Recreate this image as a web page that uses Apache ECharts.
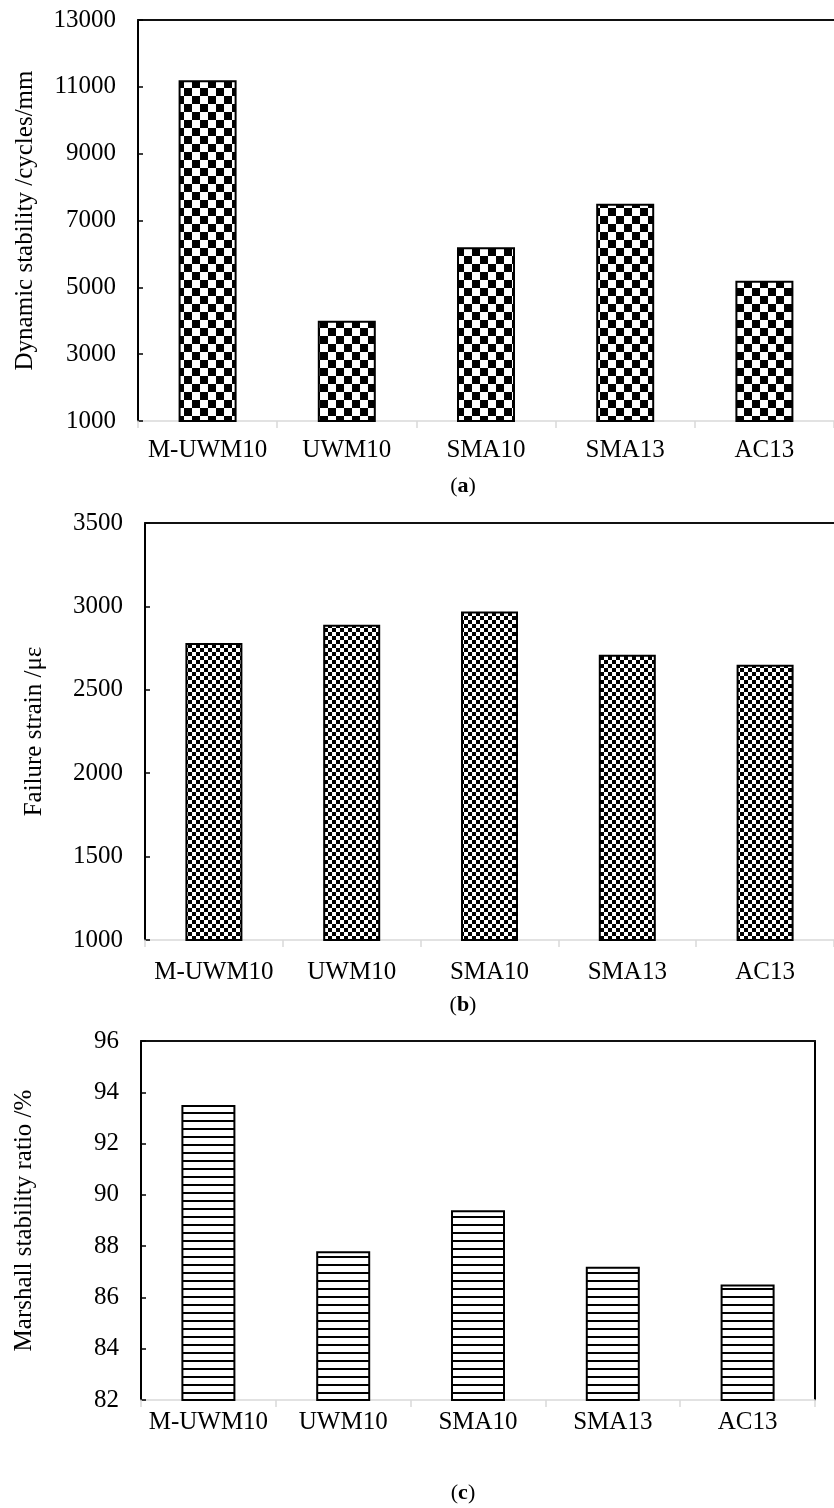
<!DOCTYPE html>
<html>
<head>
<meta charset="utf-8">
<script src="https://cdn.jsdelivr.net/npm/echarts@6/dist/echarts.min.js"></script>
<style>
html,body{margin:0;padding:0;background:#fff;}
#chart{width:834px;height:1508px;}
</style>
</head>
<body>
<div id="chart"></div>
<script>
// ---- data ----
const categories = ['M-UWM10', 'UWM10', 'SMA10', 'SMA13', 'AC13'];
const dynamicStability = [11200, 4000, 6200, 7500, 5200];   // cycles/mm
const failureStrain = [2780, 2890, 2970, 2710, 2650];        // με
const marshallRatio = [93.5, 87.8, 89.4, 87.2, 86.5];        // %
const ticksA = [1000, 3000, 5000, 7000, 9000, 11000, 13000];
const ticksB = [1000, 1500, 2000, 2500, 3000, 3500];
const ticksC = [82, 84, 86, 88, 90, 92, 94, 96];

// ---- patterns ----
function checker(cell) {
  const c = document.createElement('canvas');
  c.width = cell * 2; c.height = cell * 2;
  const g = c.getContext('2d');
  g.fillStyle = '#fff'; g.fillRect(0, 0, c.width, c.height);
  g.fillStyle = '#000';
  g.fillRect(0, 0, cell, cell);
  g.fillRect(cell, cell, cell, cell);
  return c;
}
function stripes(period, thick) {
  const c = document.createElement('canvas');
  c.width = period; c.height = period;
  const g = c.getContext('2d');
  g.fillStyle = '#fff'; g.fillRect(0, 0, period, period);
  g.fillStyle = '#000'; g.fillRect(0, 0, period, thick);
  return c;
}
const patA = { image: checker(8), repeat: 'repeat' };
const patB = { image: checker(4), repeat: 'repeat' };
const patC = { image: stripes(8, 2), repeat: 'repeat' };

const FONT = 'Liberation Serif, Times New Roman, serif';

function bottomX(gi, margin) {
  return {
    type: 'category', gridIndex: gi, data: categories, position: 'bottom',
    axisLine: { show: true, lineStyle: { color: '#d9d9d9', width: 1.5 } },
    axisTick: { show: true, length: 7, lineStyle: { color: '#d9d9d9', width: 1.5 } },
    axisLabel: { fontSize: 25, color: '#000', fontFamily: FONT, margin: margin, interval: 0 },
    splitLine: { show: false }
  };
}
function topX(gi) {
  return {
    type: 'category', gridIndex: gi, data: categories, position: 'top',
    axisLine: { show: true, lineStyle: { color: '#111', width: 2 } },
    axisTick: { show: false }, axisLabel: { show: false }, splitLine: { show: false }
  };
}
function leftY(gi, ticks, name, gap) {
  return {
    type: 'value', gridIndex: gi, position: 'left',
    min: ticks[0], max: ticks[ticks.length - 1], interval: ticks[1] - ticks[0],
    name: name, nameLocation: 'middle', nameRotate: 90, nameGap: gap,
    nameTextStyle: { fontSize: 25, color: '#000', fontFamily: FONT },
    axisLine: { show: true, lineStyle: { color: '#000', width: 2 } },
    axisTick: { show: true, inside: true, length: 5, lineStyle: { color: '#000', width: 1.5 } },
    axisLabel: { fontSize: 25, color: '#000', fontFamily: FONT, margin: 22,
      formatter: function (v) { return String(v); } },
    splitLine: { show: false }
  };
}
function rightY(gi, ticks) {
  return {
    type: 'value', gridIndex: gi, position: 'right',
    min: ticks[0], max: ticks[ticks.length - 1], interval: ticks[1] - ticks[0],
    axisLine: { show: true, lineStyle: { color: '#000', width: 2 } },
    axisTick: { show: false }, axisLabel: { show: false }, splitLine: { show: false }
  };
}
function caption(letter, top) {
  return {
    text: '({b|' + letter + '})', left: 458, top: top, textAlign: 'center',
    textStyle: { fontSize: 22, color: '#000', fontFamily: FONT, fontWeight: 'normal',
      rich: { b: { fontSize: 22, fontWeight: 'bold', color: '#000', fontFamily: FONT } } }
  };
}
function bars(xi, yi, data, pat, w) {
  return {
    type: 'bar', xAxisIndex: xi, yAxisIndex: yi, data: data, barWidth: w,
    itemStyle: { color: pat, borderColor: '#000', borderWidth: 2 },
    emphasis: { disabled: true }, silent: true, animation: false
  };
}

const chart = echarts.init(document.getElementById('chart'), null, { renderer: 'canvas' });
chart.setOption({
  animation: false,
  backgroundColor: '#fff',
  title: [caption('a', 470), caption('b', 989), caption('c', 1477)],
  grid: [
    { left: 138, top: 20, width: 710, height: 401 },
    { left: 145, top: 523, width: 699, height: 417 },
    { left: 141, top: 1041, width: 674, height: 359 }
  ],
  xAxis: [bottomX(0, 17), topX(0), bottomX(1, 20), topX(1), bottomX(2, 10), topX(2)],
  yAxis: [
    leftY(0, ticksA, 'Dynamic stability /cycles/mm', 100),
    leftY(1, ticksB, 'Failure strain /με', 98),
    leftY(2, ticksC, 'Marshall stability ratio /%', 104),
    rightY(2, ticksC)
  ],
  series: [
    bars(0, 0, dynamicStability, patA, 58),
    bars(2, 1, failureStrain, patB, 57),
    bars(4, 2, marshallRatio, patC, 54)
  ]
});
</script>
</body>
</html>
